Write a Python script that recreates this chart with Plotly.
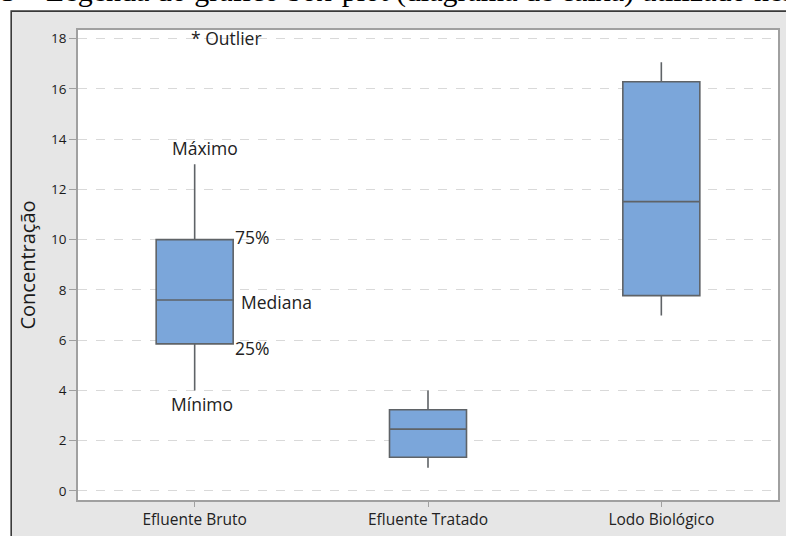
import plotly.graph_objects as go

# Box-plot summary per sample type
categorias = ["Efluente Bruto", "Efluente Tratado", "Lodo Biológico"]
minimo = [4.0, 0.92, 6.98]
q1 = [5.85, 1.34, 7.77]
mediana = [7.6, 2.46, 11.51]
q3 = [10.0, 3.23, 16.28]
maximo = [13.0, 4.0, 17.06]
y_ticks = [0, 2, 4, 6, 8, 10, 12, 14, 16, 18]

W, H = 786, 536
L, R, T, B = 78, 6, 30, 33
pw, ph = W - L - R, H - T - B


def px_x(x):
    return (x - L) / pw


def px_y(y):
    return 1 - (y - T) / ph


fig = go.Figure()
fig.add_trace(go.Box(
    x=categorias,
    q1=q1, median=mediana, q3=q3,
    lowerfence=minimo, upperfence=maximo,
    width=0.33,
    whiskerwidth=0,
    fillcolor="#7BA6DA",
    line=dict(color="#5f6367", width=1.6),
    boxpoints=False,
    hoverinfo="skip",
    showlegend=False,
))

# Outer gray frame, then the white plotting panel on top of it
fig.add_shape(type="rect", xref="paper", yref="paper", layer="below",
              x0=px_x(11), x1=px_x(800), y0=px_y(11), y1=px_y(560),
              fillcolor="#e6e6e6", line=dict(color="#3a3a3a", width=1.6))
fig.add_shape(type="rect", xref="paper", yref="paper", layer="below",
              x0=0, x1=1, y0=0, y1=1, fillcolor="white", line=dict(width=0))

FONT = "Open Sans, sans-serif"
lab = dict(family=FONT, size=17.5, color="#222222")
# Legend annotations on the first box
x0 = categorias[0]
fig.add_annotation(x=x0, y=maximo[0], text="Máximo", showarrow=False,
                   yshift=16, xshift=10, font=lab)
fig.add_annotation(x=x0, y=minimo[0], text="Mínimo", showarrow=False,
                   yshift=-14, xshift=7, font=lab)
fig.add_annotation(x=0.165, y=q3[0], text="75%", showarrow=False,
                   xanchor="left", yshift=3, font=lab)
fig.add_annotation(x=0.165, y=q1[0], text="25%", showarrow=False,
                   xanchor="left", yshift=-4, font=lab)
fig.add_annotation(x=0.19, y=mediana[0], text="Mediana", showarrow=False,
                   xanchor="left", yshift=-2, font=lab)
fig.add_annotation(x=-0.025, y=18, text="* Outlier", showarrow=False,
                   xanchor="left", yshift=1, font=dict(family=FONT, size=17.5, color="#222222"))

# Caption line running off the top edge
fig.add_annotation(xref="paper", yref="paper", x=px_x(-1), y=px_y(9.5),
                   xanchor="left", yanchor="bottom", showarrow=False,
                   text="5 – Legenda do gráfico box-plot (diagrama de caixa) utilizado nesta",
                   font=dict(family="Liberation Serif, Times New Roman, serif", size=30, color="#000000"))

fig.update_layout(
    width=W, height=H,
    margin=dict(l=L, r=R, t=T, b=B),
    paper_bgcolor="white",
    plot_bgcolor="white",
    font=dict(family=FONT, color="#333333"),
    xaxis=dict(
        type="category", range=[-0.5, 2.5],
        showline=True, mirror=True, linecolor="#a0a0a0", linewidth=1.5,
        ticks="outside", ticklen=5, tickcolor="#a0a0a0",
        showgrid=False, zeroline=False,
        tickfont=dict(size=15.5, color="#222222"),
    ),
    yaxis=dict(
        range=[-0.36, 18.34],
        tickvals=y_ticks,
        showline=True, mirror=True, linecolor="#a0a0a0", linewidth=1.5,
        ticks="outside", ticklen=7, tickcolor="#a0a0a0",
        showgrid=True, gridcolor="#d9d9d9", griddash="dash", gridwidth=1,
        zeroline=False,
        tickfont=dict(size=13.5, color="#1a1a1a"),
        title=dict(text="Concentração", font=dict(size=20, color="#1a1a1a"), standoff=10),
    ),
)

fig.write_html("out.html")
